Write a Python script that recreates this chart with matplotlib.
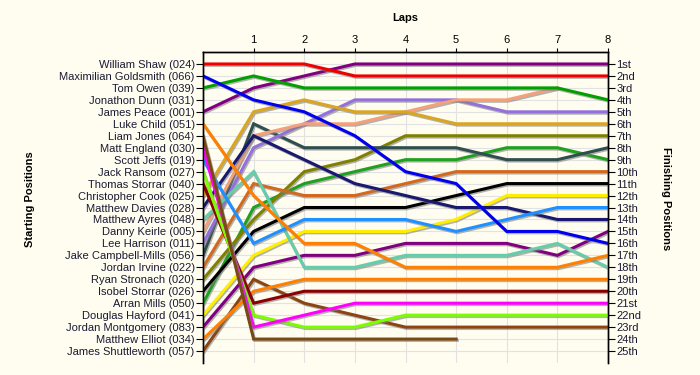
import numpy as np
import matplotlib
matplotlib.use("Agg")
import matplotlib.pyplot as plt
import matplotlib.patheffects as pe

plt.rcParams['font.family'] = ['Liberation Sans', 'DejaVu Sans']

# Drivers in starting order
drivers = ["William Shaw (024)", "Maximilian Goldsmith (066)", "Tom Owen (039)",
           "Jonathon Dunn (031)", "James Peace (001)", "Luke Child (051)",
           "Liam Jones (064)", "Matt England (030)", "Scott Jeffs (019)",
           "Jack Ransom (027)", "Thomas Storrar (040)", "Christopher Cook (025)",
           "Matthew Davies (028)", "Matthew Ayres (048)", "Danny Keirle (005)",
           "Lee Harrison (011)", "Jake Campbell-Mills (056)", "Jordan Irvine (022)",
           "Ryan Stronach (020)", "Isobel Storrar (026)", "Arran Mills (050)",
           "Douglas Hayford (041)", "Jordan Montgomery (083)", "Matthew Elliot (034)",
           "James Shuttleworth (057)"]

colors = ["#ee0000", "#0000ee", "#00a000", "#ffffff", "#800080", "#ff8000",
          "#7a4a14", "#ff00ff", "#1e90ff", "#7cfc00", "#8b0000", "#daa520",
          "#191970", "#66cdaa", "#f4a07a", "#9370db", "#2f4f4f", "#d2691e",
          "#808000", "#000000", "#20a020", "#ffee00", "#800080", "#ff8000",
          "#8b4513"]

# position of each driver (starting order) at the end of each lap, None = no data
lap0 = [1, 2, 3, None, 5, 6, 7, 8, 9, 10, 11, 12, 13, 14, 15, 16, 17, 18, 19, 20, 21, 22, 23, 24, 25]
lap1 = [1, 4, 2, None, 3, 12, 24, 23, 16, 22, 21, 5, 7, 10, 7, 8, 6, 11, 14, 15, 13, 17, 18, 20, 19]
lap2 = [1, 5, 3, None, 2, 16, 24, 22, 14, 23, 20, 4, 9, 18, 6, 6, 8, 12, 10, 13, 11, 15, 17, 19, 21]
lap3 = [2, 7, 3, None, 1, 16, 24, 21, 14, 23, 20, 5, 11, 18, 6, 4, 8, 12, 9, 13, 10, 15, 17, 19, 22]
lap4 = [2, 10, 3, None, 1, 18, 24, 21, 14, 22, 20, 5, 12, 17, 5, 4, 8, 11, 7, 13, 9, 15, 16, 19, 23]
lap5 = [2, 11, 3, None, 1, 18, 24, 21, 15, 22, 20, 6, 13, 17, 4, 4, 8, 10, 7, 12, 9, 14, 16, 19, 23]
lap6 = [2, 15, 3, None, 1, 18, None, 21, 14, 22, 20, 6, 13, 17, 4, 5, 9, 10, 7, 11, 8, 12, 16, 19, 23]
lap7 = [2, 15, 3, None, 1, 18, None, 21, 13, 22, 20, 6, 14, 16, 3, 5, 9, 10, 7, 11, 8, 12, 17, 19, 23]
lap8 = [2, 16, 4, None, 1, 17, None, 21, 13, 22, 20, 6, 14, 18, None, 5, 8, 10, 7, 11, 9, 12, 15, 19, 23]

finish_labels = ["1st", "2nd", "3rd"] + [f"{i}th" for i in range(4, 21)] + \
                ["21st", "22nd", "23rd", "24th", "25th"]

laps = [lap0, lap1, lap2, lap3, lap4, lap5, lap6, lap7, lap8]
bg = "#fffdf0"

fig = plt.figure(figsize=(7, 3.75), dpi=100, facecolor=bg)
ax = fig.add_axes([0.29, 0.032, 0.5786, 0.8293], facecolor=bg)

shadow = [pe.SimpleLineShadow(offset=(0.8, -1.0), shadow_color="gray", alpha=0.6),
          pe.Normal()]

for i in reversed(range(len(drivers))):
    xs = [lap for lap in range(len(laps)) if laps[lap][i] is not None]
    ys = [laps[lap][i] for lap in xs]
    if len(xs) < 2:
        continue
    ax.plot(xs, ys, color=colors[i], lw=2.2, solid_joinstyle="miter",
            path_effects=shadow, zorder=3)

ax.set_xlim(0, 8)
ax.set_ylim(26, 0)

# left axis: starting positions
ax.set_yticks(range(1, 26))
ax.set_yticklabels(drivers, fontsize=8, color="#1a1a33")
ax.tick_params(axis="y", length=5, width=0.8, pad=1, color="black")

# top axis: laps
ax.xaxis.tick_top()
ax.set_xticks(range(1, 9))
ax.set_xticklabels([str(i) for i in range(1, 9)], fontsize=8)
ax.tick_params(axis="x", length=3, width=0.8, pad=2)

# right axis: finishing positions
ax2 = ax.twinx()
ax2.set_ylim(26, 0)
ax2.set_yticks(range(1, 26))
ax2.set_yticklabels(finish_labels, fontsize=8, color="#1a1a33")
ax2.tick_params(axis="y", length=5, width=0.8, pad=1)

ax.grid(True, color="#e2e2e2", lw=0.8, zorder=0)
ax.set_axisbelow(True)
for a in (ax, ax2):
    a.spines["bottom"].set_visible(False)
    for s in ("top", "left", "right"):
        a.spines[s].set_linewidth(1.0)

fig.text(0.579, 0.952, "Laps", fontsize=8, fontweight="bold", ha="center", va="center")
fig.text(0.043, 0.47, "Starting Positions", fontsize=8, fontweight="bold",
         rotation=90, ha="center", va="center")
fig.text(0.951, 0.47, "Finishing Positions", fontsize=8, fontweight="bold",
         rotation=270, ha="center", va="center")

fig.savefig("out.png", dpi=100, facecolor=bg)
